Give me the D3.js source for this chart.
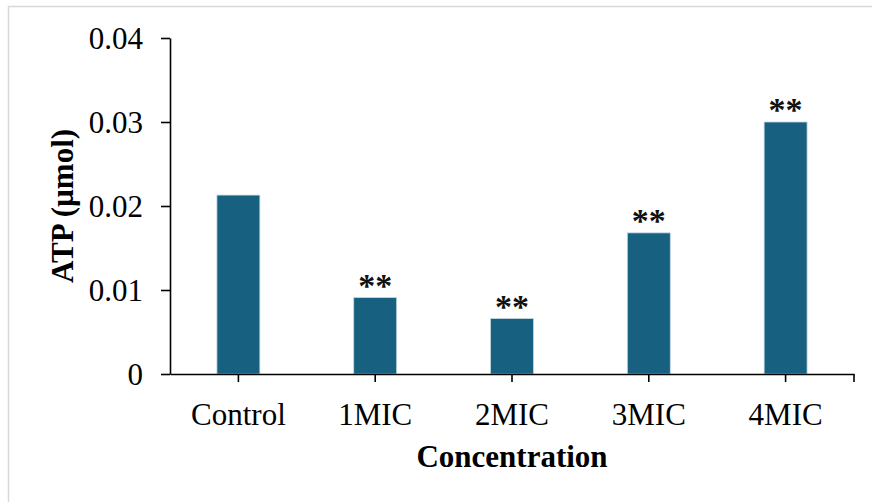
<!DOCTYPE html>
<html>
<head>
<meta charset="utf-8">
<script src="https://cdn.jsdelivr.net/npm/d3@7"></script>
<style>
  html, body { margin: 0; padding: 0; background: #fff; }
  svg { display: block; }
  text { font-family: "Liberation Serif", "Times New Roman", serif; fill: #000; }
</style>
</head>
<body>
<svg id="chart" width="872" height="502"></svg>
<script>
// ATP content by concentration
const categories = ["Control", "1MIC", "2MIC", "3MIC", "4MIC"];
const atpValues = [0.0213, 0.0091, 0.0066, 0.0168, 0.0300];
const significance = ["", "**", "**", "**", "**"];
const yTicks = [0, 0.01, 0.02, 0.03, 0.04];
const yTickLabels = ["0", "0.01", "0.02", "0.03", "0.04"];

const svg = d3.select("#chart");
const W = 872, H = 502;
const plot = { left: 170, right: 854, top: 38, bottom: 374 };

// chart area frame
svg.append("rect")
  .attr("x", 8.5).attr("y", 6.5)
  .attr("width", W + 10).attr("height", H + 10)
  .attr("fill", "#fff")
  .attr("stroke", "#d9d9d9")
  .attr("stroke-width", 1.5);

const x = d3.scaleBand()
  .domain(categories)
  .range([plot.left, plot.right])
  .paddingInner(0.686)
  .paddingOuter(0.343);

const y = d3.scaleLinear()
  .domain([0, 0.04])
  .range([plot.bottom, plot.top]);

// bars
svg.append("g").selectAll("rect")
  .data(categories)
  .join("rect")
  .attr("x", d => x(d))
  .attr("width", x.bandwidth())
  .attr("y", (d, i) => y(atpValues[i]))
  .attr("height", (d, i) => y(0) - y(atpValues[i]))
  .attr("fill", "#17607f")
  .attr("stroke", "#c4d8e4")
  .attr("stroke-width", 0.8);

// significance markers
svg.append("g").selectAll("text")
  .data(categories)
  .join("text")
  .attr("x", d => x(d) + x.bandwidth() / 2)
  .attr("y", (d, i) => y(atpValues[i]) - 1)
  .attr("text-anchor", "middle")
  .style("font-size", "34px")
  .style("font-weight", "bold")
  .style("fill", "#111")
  .text((d, i) => significance[i]);

// y axis
const yAxis = svg.append("g")
  .attr("transform", `translate(${plot.left},0)`)
  .call(d3.axisLeft(y)
    .tickValues(yTicks)
    .tickFormat((d, i) => yTickLabels[i])
    .tickSize(9)
    .tickSizeOuter(0)
    .tickPadding(18));
yAxis.select(".domain").attr("stroke", "#000").attr("stroke-width", 1.6);
yAxis.selectAll(".tick line").attr("stroke", "#000").attr("stroke-width", 1.6);
yAxis.selectAll(".tick text")
  .style("font-size", "31px")
  .attr("dy", "0.34em")
  .attr("font-family", null);

// x axis
const xAxis = svg.append("g")
  .attr("transform", `translate(0,${plot.bottom})`)
  .call(d3.axisBottom(x)
    .tickSize(8)
    .tickSizeOuter(0)
    .tickPadding(21));
xAxis.select(".domain").attr("stroke", "#000").attr("stroke-width", 1.6);
xAxis.selectAll(".tick line").attr("stroke", "#000").attr("stroke-width", 1.6);
xAxis.selectAll(".tick text")
  .style("font-size", "31px")
  .attr("font-family", null);
xAxis.append("line")
  .attr("x1", plot.right).attr("x2", plot.right)
  .attr("y1", 0).attr("y2", 8)
  .attr("stroke", "#000").attr("stroke-width", 1.6);

// axis titles
svg.append("text")
  .attr("x", (plot.left + plot.right) / 2)
  .attr("y", 467)
  .attr("text-anchor", "middle")
  .style("font-size", "31px")
  .style("font-weight", "bold")
  .text("Concentration");

svg.append("text")
  .attr("transform", "translate(73,206) rotate(-90)")
  .attr("text-anchor", "middle")
  .style("font-size", "31px")
  .style("font-weight", "bold")
  .text("ATP (µmol)");
</script>
</body>
</html>
